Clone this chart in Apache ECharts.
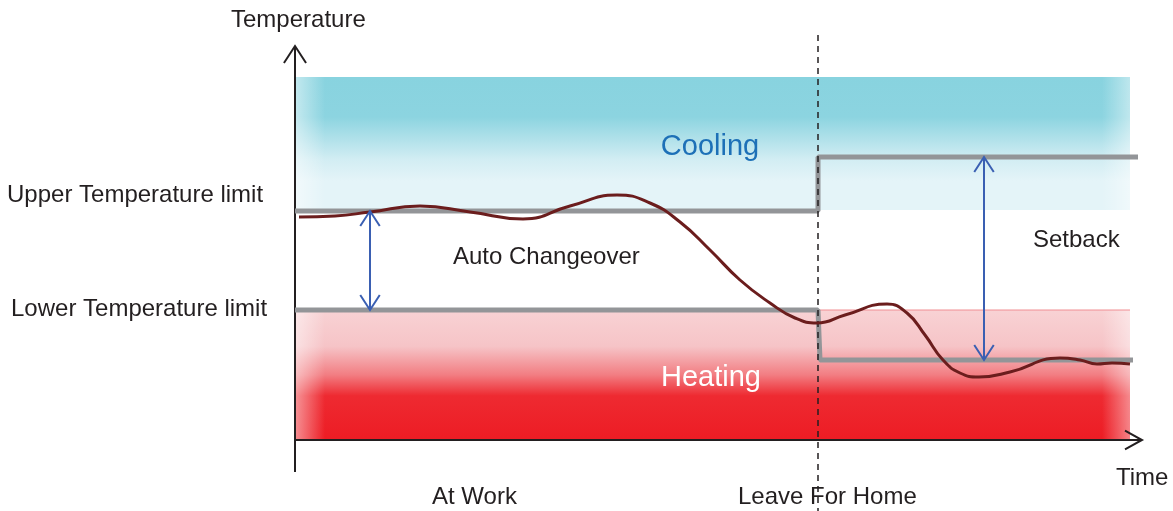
<!DOCTYPE html>
<html>
<head>
<meta charset="utf-8">
<title>Auto Changeover</title>
<script src="https://cdn.jsdelivr.net/npm/echarts@6/dist/echarts.min.js"></script>
<style>
  html, body { margin: 0; padding: 0; background: #fff; }
  #chart { width: 1173px; height: 511px; }
</style>
</head>
<body>
<div id="chart"></div>
<script>
// time runs 0..847, temperature -32..394 (arbitrary units)
const coolingBand = [0, 835, 230, 363];   // x0, x1, y0, y1
const heatingBand = [0, 835, 0, 130];
const upperLimit = [[0, 229], [523, 229], [523, 283], [843, 283]];
const lowerLimit = [[0, 130], [523, 130], [525, 80], [838, 80]];
const leaveTime = 523;
const temperature = [
  [4, 223], [40, 224], [75, 228], [125, 234], [175, 228], [228, 221], [275, 234],
  [322, 245], [355, 237], [385, 218], [415, 190], [445, 160], [475, 137], [500, 122],
  [522, 117], [550, 125], [592, 136], [612, 127], [630, 105], [648, 80], [665, 67],
  [684, 63], [715, 68], [765, 82], [785, 80], [802, 76], [817, 77], [835, 76]
];
// double arrows: x, yFrom, yTo
const spanArrows = [[75, 229, 130], [689, 283, 80]];

const FONT = '"Liberation Sans", Arial, Helvetica, sans-serif';
const chart = echarts.init(document.getElementById('chart'));

function bandItem(colors) {
  return function (params, api) {
    const p0 = api.coord([api.value(0), api.value(3)]);
    const p1 = api.coord([api.value(1), api.value(2)]);
    const w = p1[0] - p0[0], h = p1[1] - p0[1];
    return {
      type: 'group',
      children: [
        {
          type: 'rect',
          shape: { x: p0[0], y: p0[1], width: w, height: h },
          style: { fill: new echarts.graphic.LinearGradient(0, 0, 0, 1, colors) }
        },
        {
          type: 'rect',
          shape: { x: p0[0], y: p0[1], width: 30, height: h },
          style: { fill: new echarts.graphic.LinearGradient(0, 0, 1, 0, [
            { offset: 0, color: 'rgba(255,255,255,0.5)' },
            { offset: 1, color: 'rgba(255,255,255,0)' }]) }
        },
        {
          type: 'rect',
          shape: { x: p1[0] - 28, y: p0[1], width: 28, height: h },
          style: { fill: new echarts.graphic.LinearGradient(0, 0, 1, 0, [
            { offset: 0, color: 'rgba(255,255,255,0)' },
            { offset: 1, color: 'rgba(255,255,255,0.45)' }]) }
        }
      ]
    };
  };
}

function chevron(tip, dir, size, color, width) {
  // dir: 'up' | 'down' | 'right'
  let pts;
  if (dir === 'up') pts = [[tip[0] - size * 0.65, tip[1] + size], tip, [tip[0] + size * 0.65, tip[1] + size]];
  else if (dir === 'down') pts = [[tip[0] - size * 0.65, tip[1] - size], tip, [tip[0] + size * 0.65, tip[1] - size]];
  else pts = [[tip[0] - size, tip[1] - size * 0.55], tip, [tip[0] - size, tip[1] + size * 0.55]];
  return { type: 'polyline', shape: { points: pts }, style: { stroke: color, lineWidth: width, fill: null } };
}

function label(text, x, y, size, color, align) {
  return {
    type: 'text', x: x, y: y, z: 100,
    style: { text: text, font: size + 'px ' + FONT, fill: color, textAlign: align || 'left', textVerticalAlign: 'middle' }
  };
}

const option = {
  animation: false,
  grid: { left: 295, top: 46, width: 847, height: 426 },
  xAxis: { type: 'value', min: 0, max: 847, show: false },
  yAxis: { type: 'value', min: -32, max: 394, show: false },
  series: [
    {
      type: 'custom',
      z: 1,
      renderItem: bandItem([
        { offset: 0, color: '#88d3df' },
        { offset: 0.3, color: '#8cd4e0' },
        { offset: 0.62, color: '#d2edf3' },
        { offset: 0.78, color: '#e4f4f8' },
        { offset: 1, color: '#e4f4f8' }
      ]),
      data: [coolingBand]
    },
    {
      type: 'custom',
      z: 1,
      renderItem: bandItem([
        { offset: 0, color: '#f8d2d4' },
        { offset: 0.28, color: '#f6c4c7' },
        { offset: 0.5, color: '#f27d82' },
        { offset: 0.66, color: '#ee2a31' },
        { offset: 1, color: '#ed1c24' }
      ]),
      data: [heatingBand]
    },
    {
      // thin top edge of heating band
      type: 'line',
      z: 2,
      silent: true,
      symbol: 'none',
      lineStyle: { color: '#f08e93', width: 1 },
      data: [[heatingBand[0], heatingBand[3]], [heatingBand[1], heatingBand[3]]]
    },
    {
      // axes with open arrow heads
      type: 'custom',
      z: 3,
      renderItem: function (params, api) {
        const o = api.coord([0, 0]);
        const top = api.coord([0, 394]);
        const bottom = api.coord([0, -32]);
        const right = api.coord([847, 0]);
        const c = '#231f20';
        return {
          type: 'group',
          children: [
            { type: 'line', shape: { x1: o[0], y1: bottom[1], x2: top[0], y2: top[1] }, style: { stroke: c, lineWidth: 2 } },
            { type: 'line', shape: { x1: o[0], y1: o[1], x2: right[0], y2: right[1] }, style: { stroke: c, lineWidth: 2 } },
            chevron(top, 'up', 17, c, 2),
            chevron(right, 'right', 17, c, 2)
          ]
        };
      },
      data: [[0, 0]]
    },
    {
      name: 'Upper Temperature limit',
      type: 'line',
      z: 4,
      symbol: 'none',
      lineStyle: { color: '#939598', width: 5 },
      data: upperLimit
    },
    {
      name: 'Lower Temperature limit',
      type: 'line',
      z: 4,
      symbol: 'none',
      lineStyle: { color: '#939598', width: 5 },
      data: lowerLimit
    },
    {
      type: 'line',
      z: 5,
      clip: false,
      symbol: 'none',
      lineStyle: { color: '#231f20', width: 1.5, type: [6, 5] },
      data: [[leaveTime, 405], [leaveTime, -71]]
    },
    {
      name: 'Temperature',
      type: 'line',
      z: 6,
      smooth: 0.5,
      symbol: 'none',
      lineStyle: { color: '#6b1d1d', width: 3 },
      data: temperature
    },
    {
      type: 'custom',
      z: 7,
      renderItem: function (params, api) {
        const a = api.coord([api.value(0), api.value(1)]);
        const b = api.coord([api.value(0), api.value(2)]);
        const c = '#3a5fb2';
        return {
          type: 'group',
          children: [
            { type: 'line', shape: { x1: a[0], y1: a[1], x2: b[0], y2: b[1] }, style: { stroke: c, lineWidth: 2 } },
            chevron(a, 'up', 15, c, 2),
            chevron(b, 'down', 15, c, 2)
          ]
        };
      },
      data: spanArrows
    }
  ],
  graphic: [
    label('Temperature', 231, 20, 24, '#231f20'),
    label('Upper Temperature limit', 7, 195, 24, '#231f20'),
    label('Lower Temperature limit', 11, 309, 24, '#231f20'),
    label('Cooling', 710, 147, 29, '#1d70b7', 'center'),
    label('Heating', 711, 378, 29, '#ffffff', 'center'),
    label('Auto Changeover', 453, 257, 24, '#231f20'),
    label('Setback', 1033, 240, 24, '#231f20'),
    label('At Work', 432, 497, 24, '#231f20'),
    label('Leave For Home', 738, 497, 24, '#231f20'),
    label('Time', 1116, 478, 24, '#231f20')
  ]
};

chart.setOption(option);
</script>
</body>
</html>
